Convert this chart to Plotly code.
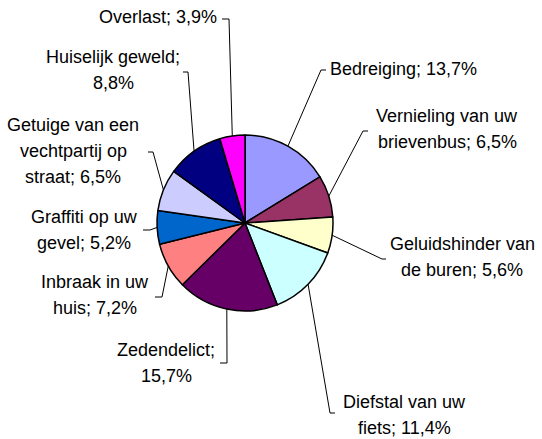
import math
import plotly.graph_objects as go

# ---- data ----
categories = ["Bedreiging", "Vernieling van uw brievenbus", "Geluidshinder van de buren",
              "Diefstal van uw fiets", "Zedendelict", "Inbraak in uw huis",
              "Graffiti op uw gevel", "Getuige van een vechtpartij op straat",
              "Huiselijk geweld", "Overlast"]
values = [13.7, 6.5, 5.6, 11.4, 15.7, 7.2, 5.2, 6.5, 8.8, 3.9]
colors = ["#9999FF", "#993366", "#FFFFCC", "#CCFFFF", "#660066", "#FF8080",
          "#0066CC", "#CCCCFF", "#000080", "#FF00FF"]

# ---- layout helpers (pixels) ----
W, H = 542, 439
CX, CY, R = 245, 223, 88
wraps = [[2], [3, 2], [2, 3], [3, 2], [1, 1], [3, 2], [3, 2], [3, 2, 2], [2, 1], [2]]
# text x, xanchor, first-line y, elbow point, tick end
label_pos = [
    (328, "left", 69, (321, 70), (326, 70)),
    (447, "center", 116, (363, 131), (368, 131)),
    (462, "center", 244, (382, 259), (386, 259)),
    (404, "center", 402, (330, 413), (335, 413)),
    (166, "center", 350, (227, 363), (220, 363)),
    (95, "center", 282, (162, 297), (155, 297)),
    (84, "center", 217, (150, 230), (143, 230)),
    (73, "center", 125, (153, 152), (148, 152)),
    (113, "center", 57, (188, 72), (183, 72)),
    (219, "right", 17, (229, 19), (222, 19)),
]
LINE_H = 26


def px(x):
    return x / W


def py(y):
    return 1 - y / H


fig = go.Figure(go.Pie(
    labels=categories, values=values, sort=False, direction="clockwise", rotation=0,
    marker=dict(colors=colors, line=dict(color="black", width=1.5)),
    textinfo="none", hoverinfo="label+value",
    domain=dict(x=[px(CX - R), px(CX + R)], y=[py(CY + R), py(CY - R)]),
))

total = sum(values)
cum = 0.0
annotations = []
shapes = []
for cat, v, wrap, pos in zip(categories, values, wraps, label_pos):
    mid = (cum + v / 2) / total * 2 * math.pi
    cum += v
    ex, ey = CX + R * math.sin(mid), CY - R * math.cos(mid)
    tx, xanchor, y0, elbow, tick = pos
    shapes.append(dict(type="path", xref="paper", yref="paper",
                       path=f"M {px(ex)},{py(ey)} L {px(elbow[0])},{py(elbow[1])} L {px(tick[0])},{py(tick[1])}",
                       line=dict(color="black", width=1)))
    label = f"{cat}; " + f"{v:.1f}".replace(".", ",") + "%"
    words = label.split(" ")
    i = 0
    for k, n in enumerate(wrap):
        line = " ".join(words[i:i + n])
        i += n
        annotations.append(dict(text=line, x=px(tx), y=py(y0 + k * LINE_H), xref="paper", yref="paper",
                                xanchor=xanchor, yanchor="middle", showarrow=False,
                                font=dict(family="Liberation Sans, Arial", size=18, color="black")))

fig.update_layout(width=W, height=H, margin=dict(l=0, r=0, t=0, b=0),
                  paper_bgcolor="white", plot_bgcolor="white", showlegend=False,
                  annotations=annotations, shapes=shapes)
fig.write_html("out.html", config={"displayModeBar": False},
               post_script="document.body.style.margin='0';document.body.style.overflow='hidden';")
